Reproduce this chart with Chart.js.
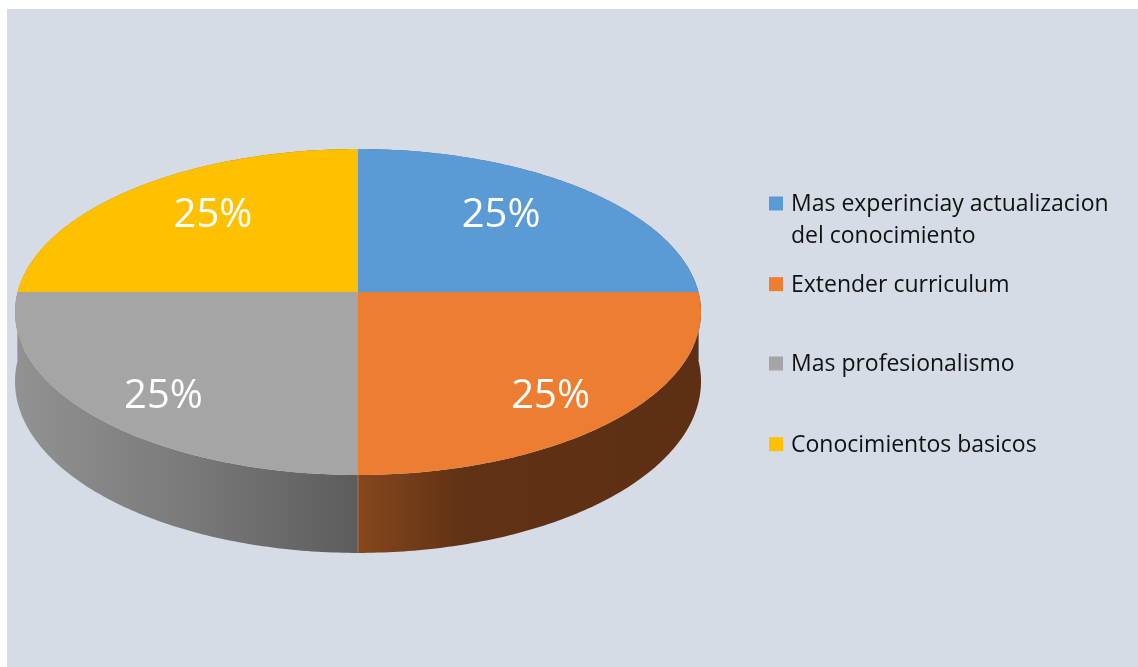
<!DOCTYPE html>
<html>
<head>
<meta charset="utf-8">
<script src="https://cdn.jsdelivr.net/npm/chart.js@4.4.1/dist/chart.umd.min.js"></script>
<style>
  html, body { margin: 0; padding: 0; background: #ffffff; }
  #wrap { position: relative; width: 1138px; height: 667px; }
</style>
</head>
<body>
<div id="wrap"><canvas id="pie3d"></canvas></div>
<script>
/* ---------- Données ---------- */
const categories = [
    ["Mas experinciay actualizacion", "del conocimiento"],
    "Extender curriculum",
    "Mas profesionalismo",
    "Conocimientos basicos"
];
const values = [25, 25, 25, 25];
const topColors = ["#5B9BD5", "#ED7D31", "#A5A5A5", "#FFC000"];
// dégradé du flanc de chaque part (gauche -> droite)
const sideShades = [
    [["#3E6E9C", 0], ["#325A80", 1]],
    [["#86471E", 0], ["#613215", 0.3], ["#5D2F13", 1]],
    [["#929292", 0], ["#7A7A7A", 0.5], ["#5C5C5C", 1]],
    [["#B38700", 0], ["#8F6C00", 1]]
];

/* ---------- Perspective du camembert ---------- */
const TILT = -0.1227;   // bord avant plus grand que le bord arrière
const RX = 1.1658;      // demi-largeur / rayon
const RY = 0.5497;      // écrasement vertical
const DEPTH = 0.2342;   // épaisseur du disque

function project(arc, u, v, down) {
    const w = 1 + TILT * v;
    return {
        x: arc.x + arc.outerRadius * RX * u / w,
        y: arc.y + arc.outerRadius * (RY * v + (down ? DEPTH : 0)) / w
    };
}

function arcPoints(arc, down) {
    const pts = [];
    const steps = 120;
    for (let s = 0; s <= steps; s++) {
        const a = arc.startAngle + (arc.endAngle - arc.startAngle) * s / steps;
        pts.push(project(arc, Math.cos(a), Math.sin(a), down));
    }
    return pts;
}

const pie3dPlugin = {
    id: "pie3d",
    beforeDraw(chart) {
        const ctx = chart.ctx;
        ctx.save();
        ctx.fillStyle = "#D6DCE5";
        ctx.fillRect(7, 9, chart.width - 7, chart.height - 9);
        ctx.restore();
    },
    beforeDatasetDraw() {
        return false;   // les parts sont dessinées en 3D plus bas
    },
    afterDatasetsDraw(chart) {
        const ctx = chart.ctx;
        const arcs = chart.getDatasetMeta(0).data;
        const mid = a => (a.startAngle + a.endAngle) / 2;
        const order = arcs.map((a, i) => i)
            .sort((i, j) => Math.sin(mid(arcs[i])) - Math.sin(mid(arcs[j])));

        ctx.save();
        // flancs, de l'arrière vers l'avant
        order.forEach(i => {
            const arc = arcs[i];
            const top = arcPoints(arc, false);
            const bottom = arcPoints(arc, true).reverse();
            const xs = top.map(p => p.x);
            const g = ctx.createLinearGradient(Math.min(...xs), 0, Math.max(...xs), 0);
            sideShades[i].forEach(([c, o]) => g.addColorStop(o, c));
            ctx.beginPath();
            top.concat(bottom).forEach((p, k) => k ? ctx.lineTo(p.x, p.y) : ctx.moveTo(p.x, p.y));
            ctx.closePath();
            ctx.fillStyle = g;
            ctx.fill();
        });

        // arête verticale entre les flancs avant
        arcs.forEach(arc => {
            const a = arc.startAngle;
            if (Math.sin(a) < 0.2) return;
            const p = project(arc, Math.cos(a), Math.sin(a), false);
            const q = project(arc, Math.cos(a), Math.sin(a), true);
            ctx.beginPath();
            ctx.moveTo(p.x, p.y);
            ctx.lineTo(q.x, q.y);
            ctx.strokeStyle = "rgba(255,255,255,0.25)";
            ctx.lineWidth = 1;
            ctx.stroke();
        });

        // faces supérieures
        arcs.forEach((arc, i) => {
            const pts = arcPoints(arc, false);
            ctx.beginPath();
            ctx.moveTo(arc.x, arc.y);
            pts.forEach(p => ctx.lineTo(p.x, p.y));
            ctx.closePath();
            ctx.fillStyle = arc.options.backgroundColor;
            ctx.fill();
        });

        // étiquettes de pourcentage
        const total = values.reduce((s, v) => s + v, 0);
        ctx.fillStyle = "#ffffff";
        ctx.font = "40px 'Open Sans'";
        ctx.textAlign = "center";
        ctx.textBaseline = "alphabetic";
        arcs.forEach((arc, i) => {
            const m = mid(arc);
            const f = Math.sin(m) < 0 ? [0.637, 0.741] : [0.746, 0.834];
            const p = project(arc, Math.cos(m) * f[0], Math.sin(m) * f[1], false);
            const txt = Math.round(values[i] / total * 100) + "%";
            ctx.fillText(txt, p.x - 1, p.y + 0.357 * 40);
        });
        ctx.restore();
    }
};

/* ---------- Légende à droite ---------- */
const legendPlugin = {
    id: "sideLegend",
    afterDraw(chart, args, opts) {
        const ctx = chart.ctx;
        const labels = chart.data.labels;
        const colors = chart.data.datasets[0].backgroundColor;
        ctx.save();
        ctx.font = opts.font;
        ctx.textAlign = "left";
        ctx.textBaseline = "alphabetic";
        labels.forEach((label, i) => {
            const base = opts.baselines[i];
            ctx.fillStyle = colors[i];
            ctx.fillRect(opts.boxX, base - 14.5, 14, 14);
            ctx.fillStyle = "#111111";
            const lines = Array.isArray(label) ? label : [label];
            lines.forEach((line, k) => ctx.fillText(line, opts.textX, base + k * opts.lineHeight));
        });
        ctx.restore();
    }
};

new Chart(document.getElementById("pie3d"), {
    type: "pie",
    data: {
        labels: categories,
        datasets: [{
            data: values,
            backgroundColor: topColors,
            borderWidth: 0
        }]
    },
    options: {
        responsive: true,
        maintainAspectRatio: false,
        animation: false,
        layout: { padding: { left: 18, right: 440, top: 0, bottom: 83 } },
        plugins: {
            legend: { display: false },
            tooltip: { enabled: false },
            sideLegend: {
                font: "23px 'Open Sans'",
                boxX: 769,
                textX: 791,
                lineHeight: 31.7,
                baselines: [211, 291.7, 371, 451.7]
            }
        }
    },
    plugins: [pie3dPlugin, legendPlugin]
});
</script>
</body>
</html>
